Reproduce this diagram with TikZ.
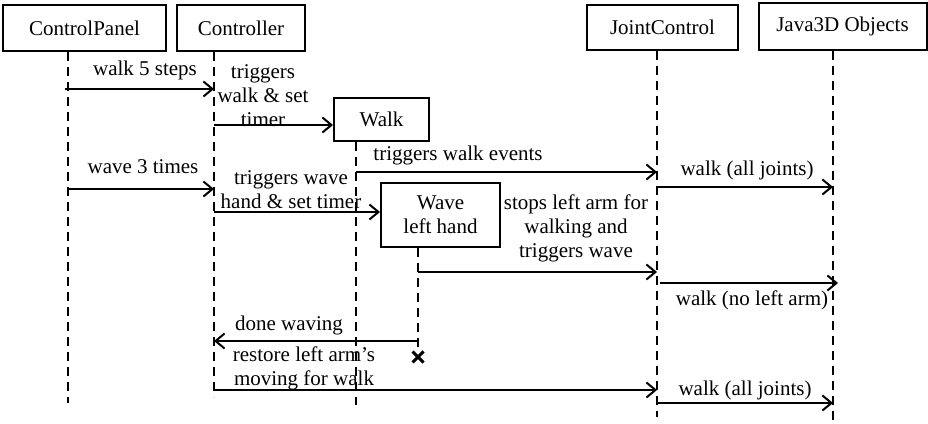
\documentclass[tikz,border=0pt]{standalone}
\usepackage{fontspec}
\setmainfont{Liberation Serif}
\usetikzlibrary{arrows.meta,shapes.misc}
\begin{document}
\begin{tikzpicture}[x=1pt,y=-1pt,
  font=\fontsize{21}{24}\selectfont,
  box/.style={draw,line width=2pt,inner sep=0pt,align=center},
  life/.style={line width=2pt,dash pattern=on 9pt off 6pt},
  msg/.style={line width=2pt,-{Straight Barb[length=9pt,width=15pt,line width=2pt]}},
  lbl/.style={inner sep=0pt,align=center}]
\useasboundingbox (0,0) rectangle (928,423);
% objects
\node[box,minimum width=163pt,minimum height=46pt] (cp) at (84.5,28) {ControlPanel};
\node[box,minimum width=128pt,minimum height=46pt] (ct) at (241,28) {Controller};
\node[box,minimum width=151pt,minimum height=45pt] (jc) at (662.5,27.5) {JointControl};
\node[box,minimum width=168pt,minimum height=47pt] (j3) at (842.5,26.5) {Java3D Objects};
\node[box,minimum width=95pt,minimum height=43pt] (walk) at (381.5,119.5) {Walk};
\node[box,minimum width=119pt,minimum height=64pt] (wave) at (440.5,215) {Wave\\left hand};
\node[cross out,draw,line width=3pt,minimum size=8pt,inner sep=0pt] (xend) at (418,357) {};
% lifeline tops and ends
\coordinate (cpT) at ([xshift=-16.5pt]cp.south);
\coordinate (ctT) at ([xshift=-27pt]ct.south);
\coordinate (jcT) at ([xshift=-5.5pt]jc.south);
\coordinate (j3T) at ([xshift=-9.5pt]j3.south);
\coordinate (wkT) at ([xshift=-25.5pt]walk.south);
\coordinate (wvT) at ([xshift=-22.5pt]wave.south);
\coordinate (cpE) at (68,403);
\coordinate (ctE) at (214,397);
\coordinate (jcE) at (657,417);
\coordinate (j3E) at (833,423);
\coordinate (wkE) at (356,405);
\draw[life] (cpT) -- (cpE);
\draw[life] (ctT) -- (ctE);
\draw[life] (jcT) -- (jcE);
\draw[life] (j3T) -- (j3E);
\draw[life] (wkT) -- (wkE);
\draw[life] (wvT) -- (xend.north);
% message heights
\coordinate (m1) at (0,89);
\coordinate (m2) at (0,125);
\coordinate (m3) at (0,172);
\coordinate (m4) at (0,189);
\coordinate (m5) at (0,212);
\coordinate (m6) at (0,187);
\coordinate (m7) at (0,272);
\coordinate (m8) at (0,283);
\coordinate (m9) at (0,341);
\coordinate (m10) at (0,390);
\coordinate (m11) at (0,403);
% messages
\draw[msg] ([xshift=-3pt]cpT |- m1) -- (ctT |- m1);
\draw[msg] (ctT |- m2) -- (walk.west |- m2);
\draw[msg] (wkT |- m3) -- (jcT |- m3);
\draw[msg] (cpT |- m4) -- (ctT |- m4);
\draw[msg] (ctT |- m5) -- (wave.west |- m5);
\draw[msg] (jcT |- m6) -- (j3T |- m6);
\draw[msg] (wvT |- m7) -- (jcT |- m7);
\draw[msg] ([xshift=3pt]jcT |- m8) -- ([xshift=5pt]j3T |- m8);
\draw[msg] (wvT |- m9) -- (ctT |- m9);
\draw[msg] (ctT |- m10) -- (jcT |- m10);
\draw[msg] (jcT |- m11) -- (j3T |- m11);
% labels
\node[lbl] (l1) at (145,70) {walk 5 steps};
\node[lbl] (l2) at (263,96) {triggers\\walk \& set\\timer};
\node[lbl] (l3) at (458,155) {triggers walk events};
\node[lbl] (l4) at (143,167) {wave 3 times};
\node[lbl] (l5) at (291,190) {triggers wave\\hand \& set timer};
\node[lbl] (l6) at (747,170) {walk (all joints)};
\node[lbl] (l7) at (576,228) {stops left arm for\\walking and\\triggers wave};
\node[lbl] (l8) at (752,300) {walk (no left arm)};
\node[lbl] (l9) at (289,325) {done waving};
\node[lbl] (l10) at (304,368) {restore left arm’s\\moving for walk};
\node[lbl] (l11) at (745,390) {walk (all joints)};
\end{tikzpicture}
\end{document}
